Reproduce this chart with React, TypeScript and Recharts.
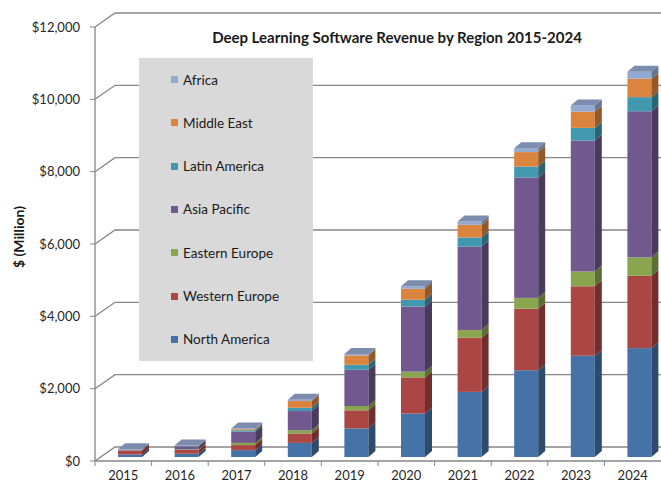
import React from "react";
import { BarChart, Bar, XAxis, YAxis, CartesianGrid, Legend } from "recharts";

const YEARS = ["2015", "2016", "2017", "2018", "2019", "2020", "2021", "2022", "2023", "2024"];
const NORTH_AMERICA = [70, 90, 190, 390, 790, 1200, 1800, 2400, 2800, 3010];
const WESTERN_EUROPE = [100, 105, 140, 260, 500, 1000, 1500, 1700, 1920, 2000];
const EASTERN_EUROPE = [10, 15, 60, 90, 120, 160, 210, 300, 410, 510];
const ASIA_PACIFIC = [20, 85, 310, 530, 1000, 1800, 2310, 3330, 3620, 4040];
const LATIN_AMERICA = [5, 10, 40, 90, 140, 190, 250, 300, 350, 390];
const MIDDLE_EAST = [5, 10, 30, 190, 260, 300, 350, 400, 450, 510];
const AFRICA = [5, 5, 15, 30, 40, 70, 90, 110, 170, 190];
const Y_TICKS = [0, 2000, 4000, 6000, 8000, 10000, 12000];

const SERIES = [
  { key: "na", name: "North America", values: NORTH_AMERICA, fill: "#4572A7", side: "#2e4b6e" },
  { key: "we", name: "Western Europe", values: WESTERN_EUROPE, fill: "#AA4643", side: "#712e2c" },
  { key: "ee", name: "Eastern Europe", values: EASTERN_EUROPE, fill: "#89A54E", side: "#5b6e33" },
  { key: "ap", name: "Asia Pacific", values: ASIA_PACIFIC, fill: "#71588F", side: "#4a3a5e" },
  { key: "la", name: "Latin America", values: LATIN_AMERICA, fill: "#4198AF", side: "#2b6575" },
  { key: "me", name: "Middle East", values: MIDDLE_EAST, fill: "#DB843D", side: "#93592a" },
  { key: "af", name: "Africa", values: AFRICA, fill: "#93A9CF", side: "#66758f" },
];

const data = YEARS.map((year, i) => {
  const row: any = { year };
  SERIES.forEach((s) => (row[s.key] = s.values[i]));
  return row;
});

const W = 661;
const H = 484;
const Y_AXIS_W = 95;
const X_AXIS_H = 23;
const TOP = 27;
const BAND = (W - Y_AXIS_W) / YEARS.length;
const PLOT_BOTTOM = H - X_AXIS_H;
// depth of the back wall and of the bars
const WALL_DX = 20;
const WALL_DY = -14;
const BAR_SHIFT_X = 7;
const BAR_SHIFT_Y = -4;
const DEPTH_X = 7;
const DEPTH_Y = -6;
const FONT = "Lato, 'Open Sans', sans-serif";
const AXIS_GRAY = "#868686";

const make3D = (side: string, withTop: boolean) => (props: any) => {
  const { fill, width, height } = props;
  const x = props.x + BAR_SHIFT_X;
  const y = props.y + BAR_SHIFT_Y;
  const w = width;
  const h = Math.max(height, 0);
  return (
    <g>
      <rect x={x} y={y} width={w} height={h} fill={fill} />
      <polygon
        points={`${x + w},${y} ${x + w + DEPTH_X},${y + DEPTH_Y} ${x + w + DEPTH_X},${y + h + DEPTH_Y} ${x + w},${y + h}`}
        fill={side}
      />
      {withTop && (
        <polygon
          points={`${x},${y} ${x + DEPTH_X},${y + DEPTH_Y} ${x + w + DEPTH_X},${y + DEPTH_Y} ${x + w},${y}`}
          fill="#7b8caf"
        />
      )}
    </g>
  );
};

const wallLine = (props: any) => {
  const { x1, x2, y1 } = props;
  return (
    <polyline
      key={props.key ?? `${y1}`}
      points={`${x1},${y1} ${x1 + WALL_DX},${y1 + WALL_DY} ${x2},${y1 + WALL_DY}`}
      fill="none"
      stroke={AXIS_GRAY}
      strokeWidth={1.3}
    />
  );
};

const YearTick = (props: any) => {
  const { x, payload } = props;
  return (
    <g>
      <line x1={x - BAND / 2} y1={PLOT_BOTTOM} x2={x - BAND / 2} y2={PLOT_BOTTOM + 5} stroke={AXIS_GRAY} />
      <text x={x} y={H - 4} textAnchor="middle" fontSize={13} fontFamily={FONT} fill="#262626">
        {payload.value}
      </text>
    </g>
  );
};

// legend lists the regions top-down, the reverse of the stack order
const renderLegend = () => {
  const items = [...SERIES].reverse();
  return (
    <div style={{ background: "#d9d9d9", width: 174, height: 303, fontFamily: FONT, fontSize: 13.5, color: "#1a1a1a" }}>
      {items.map((it) => (
        <div key={it.key} style={{ height: 303 / 7, display: "flex", alignItems: "center", paddingLeft: 32 }}>
          <span style={{ width: 7, height: 7, background: it.fill, marginRight: 5, display: "inline-block" }} />
          <span>{it.name}</span>
        </div>
      ))}
    </div>
  );
};

export default function App() {
  return (
    <div style={{ position: "absolute", left: 0, top: 0, width: W, height: H, background: "#fff" }}>
      <BarChart width={W} height={H} data={data} margin={{ top: TOP, right: 0, bottom: 0, left: 0 }} barSize={24}>
        <CartesianGrid horizontal={wallLine} vertical={false} />
        <XAxis
          dataKey="year"
          height={X_AXIS_H}
          axisLine={{ stroke: AXIS_GRAY, strokeWidth: 1.3 }}
          tickLine={false}
          tick={<YearTick />}
          interval={0}
        />
        <YAxis
          width={Y_AXIS_W}
          domain={[0, 12000]}
          ticks={Y_TICKS}
          interval={0}
          axisLine={{ stroke: AXIS_GRAY, strokeWidth: 1.3 }}
          tickLine={{ stroke: AXIS_GRAY }}
          tickSize={5}
          tickMargin={10}
          tick={{ fontSize: 13, fontFamily: FONT, fill: "#262626" }}
          tickFormatter={(v: number) => "$" + v.toLocaleString("en-US")}
        />
        <Legend
          layout="horizontal"
          verticalAlign="middle"
          align="center"
          content={renderLegend}
          wrapperStyle={{ left: 139, top: 58, width: 174, height: 303 }}
        />
        {SERIES.map((s, i) => (
          <Bar
            key={s.key}
            dataKey={s.key}
            name={s.name}
            stackId="a"
            fill={s.fill}
            isAnimationActive={false}
            shape={make3D(s.side, i === SERIES.length - 1)}
          />
        ))}
      </BarChart>
      <div
        style={{
          position: "absolute",
          left: 397,
          top: 37,
          transform: "translate(-50%, -50%)",
          whiteSpace: "nowrap",
          fontFamily: FONT,
          fontWeight: 700,
          fontSize: 15,
          color: "#1a1a1a",
        }}
      >
        Deep Learning Software Revenue by Region 2015-2024
      </div>
      <div
        style={{
          position: "absolute",
          left: 18,
          top: 237,
          transform: "translate(-50%, -50%) rotate(-90deg)",
          whiteSpace: "nowrap",
          fontFamily: FONT,
          fontWeight: 700,
          fontSize: 14,
          color: "#1a1a1a",
        }}
      >
        $ (Million)
      </div>
    </div>
  );
}
